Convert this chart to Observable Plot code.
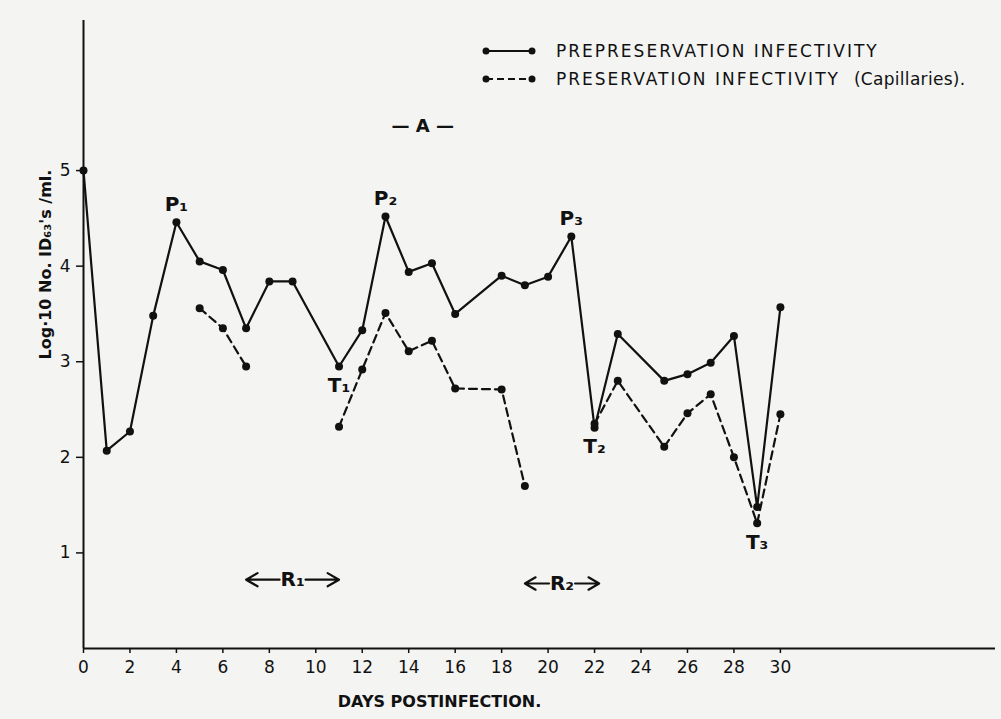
<!DOCTYPE html>
<html>
<head>
<meta charset="utf-8">
<script src="https://cdn.jsdelivr.net/npm/d3@7"></script>
<script src="https://cdn.jsdelivr.net/npm/@observablehq/plot@0.6"></script>
<style>
  html, body { margin: 0; padding: 0; background: #f4f4f3; }
  #wrap { position: relative; width: 1001px; height: 719px; overflow: hidden; }
  #legend { position: absolute; left: 480px; top: 37px; font-family: "DejaVu Sans", sans-serif; font-size: 17px; color: #111; letter-spacing: 2px; }
  #legend .row { display: flex; align-items: center; height: 28px; }
  #legend svg { margin-right: 18px; }
  #legend .paren { letter-spacing: 0.3px; margin-left: 14px; }
</style>
</head>
<body>
<div id="wrap">
  <div id="chart"></div>
  <div id="legend"></div>
</div>
<script>
// ---- data ----
const solidDays = [0,1,2,3,4,5,6,7,8,9,11,12,13,14,15,16,18,19,20,21,22,23,25,26,27,28,29,30];
const solidValues = [5.0,2.07,2.27,3.48,4.46,4.05,3.96,3.35,3.84,3.84,2.95,3.33,4.52,3.94,4.03,3.50,3.90,3.80,3.89,4.31,2.31,3.29,2.80,2.87,2.99,3.27,1.48,3.57];

const dashedDays = [5,6,7,8,11,12,13,14,15,16,18,19,20,22,23,25,26,27,28,29,30];
const dashedValues = [3.56,3.35,2.95,null,2.32,2.92,3.51,3.11,3.22,2.72,2.71,1.70,null,2.35,2.80,2.11,2.46,2.66,2.00,1.31,2.45];

const xTicks = [0,2,4,6,8,10,12,14,16,18,20,22,24,26,28,30];
const yTicks = [1,2,3,4,5];

const peakLabels = ["P₁","P₂","P₃"];
const peakDays = [4,13,21];
const peakValues = [4.46,4.52,4.31];
const troughLabels = ["T₁","T₂","T₃"];
const troughDays = [11,22,29];
const troughValues = [2.95,2.31,1.31];

const rangeLabels = ["R₁","R₂"];
const rangeStart = [7,19];
const rangeEnd = [11,22.2];
const rangeLevel = [0.72,0.68];

const panelLabel = "— A —";
const panelDay = 14.6;
const panelValue = 5.46;

const legendLabels = ["PREPRESERVATION INFECTIVITY", "PRESERVATION INFECTIVITY"];
const legendNotes = ["", "(Capillaries)."];

const xTitle = "DAYS POSTINFECTION.";
const yTitle = "Log·10 No. ID₆₃'s /ml.";

// ---- build tables ----
const solid = solidDays.map((d,i) => ({day: d, v: solidValues[i]}));
const dashed = dashedDays.map((d,i) => ({day: d, v: dashedValues[i]}));
const peaks = peakLabels.map((l,i) => ({label: l, day: peakDays[i], v: peakValues[i]}));
const troughs = troughLabels.map((l,i) => ({label: l, day: troughDays[i], v: troughValues[i]}));
const ranges = rangeLabels.map((l,i) => ({label: l, a: rangeStart[i], b: rangeEnd[i], mid: (rangeStart[i]+rangeEnd[i])/2, y: rangeLevel[i]}));

const font = `"DejaVu Sans", sans-serif`;
const ink = "#111";

const chart = Plot.plot({
  width: 1001,
  height: 719,
  marginLeft: 83,
  marginRight: 6,
  marginTop: 20,
  marginBottom: 71,
  style: {background: "transparent", fontFamily: font, color: ink},
  x: {domain: [0, 39.26]},
  y: {domain: [0, 6.57]},
  marks: [
    Plot.ruleX([0], {stroke: ink, strokeWidth: 2}),
    Plot.ruleY([0], {stroke: ink, strokeWidth: 2}),
    Plot.axisX(xTicks, {tickSize: 5, tickPadding: 7, fontSize: 17, stroke: ink, strokeWidth: 1.5, label: null, tickFormat: d => String(d)}),
    Plot.axisY(yTicks, {tickSize: 7, tickPadding: 6, fontSize: 17, stroke: ink, strokeWidth: 1.5, label: null, tickFormat: d => String(d)}),
    Plot.text([xTitle], {frameAnchor: "bottom", dx: -100, dy: 58, fontSize: 16, fontWeight: "bold", fill: ink}),
    Plot.text([yTitle], {frameAnchor: "left", dx: -38, dy: 25, rotate: -90, fontSize: 16, fontWeight: "bold", fill: ink}),
    Plot.line(solid, {x: "day", y: "v", stroke: ink, strokeWidth: 2.2}),
    Plot.line(dashed, {x: "day", y: "v", stroke: ink, strokeWidth: 2.2, strokeDasharray: "8,5"}),
    Plot.dot(solid, {x: "day", y: "v", r: 4, fill: ink}),
    Plot.dot(dashed, {x: "day", y: "v", r: 4, fill: ink}),
    Plot.text(peaks, {x: "day", y: "v", text: "label", dy: -18, fontSize: 20, fontWeight: "bold", fill: ink}),
    Plot.text(troughs, {x: "day", y: "v", text: "label", dy: 19, fontSize: 20, fontWeight: "bold", fill: ink}),
    Plot.text([panelLabel], {x: () => panelDay, y: () => panelValue, fontSize: 18, fontWeight: "bold", fill: ink}),
    Plot.text(ranges, {x: "mid", y: "y", text: "label", fontSize: 20, fontWeight: "bold", fill: ink}),
    Plot.arrow(ranges, {x1: "mid", y1: "y", x2: "a", y2: "y", insetStart: 13, headLength: 9, strokeWidth: 2.2, stroke: ink}),
    Plot.arrow(ranges, {x1: "mid", y1: "y", x2: "b", y2: "y", insetStart: 13, headLength: 9, strokeWidth: 2.2, stroke: ink})
  ]
});
document.getElementById("chart").append(chart);

// legend
const legend = document.getElementById("legend");
legendLabels.forEach((lab, i) => {
  const row = document.createElement("div");
  row.className = "row";
  const dash = i === 0 ? "" : `stroke-dasharray="7,4"`;
  const note = legendNotes[i] ? `<span class="paren">${legendNotes[i]}</span>` : "";
  row.innerHTML = `<svg width="58" height="12"><line x1="6" y1="6" x2="52" y2="6" stroke="${ink}" stroke-width="2" ${dash}/><circle cx="6" cy="6" r="3.5" fill="${ink}"/><circle cx="52" cy="6" r="3.5" fill="${ink}"/></svg><span>${lab}</span>${note}`;
  legend.append(row);
});
</script>
</body>
</html>
